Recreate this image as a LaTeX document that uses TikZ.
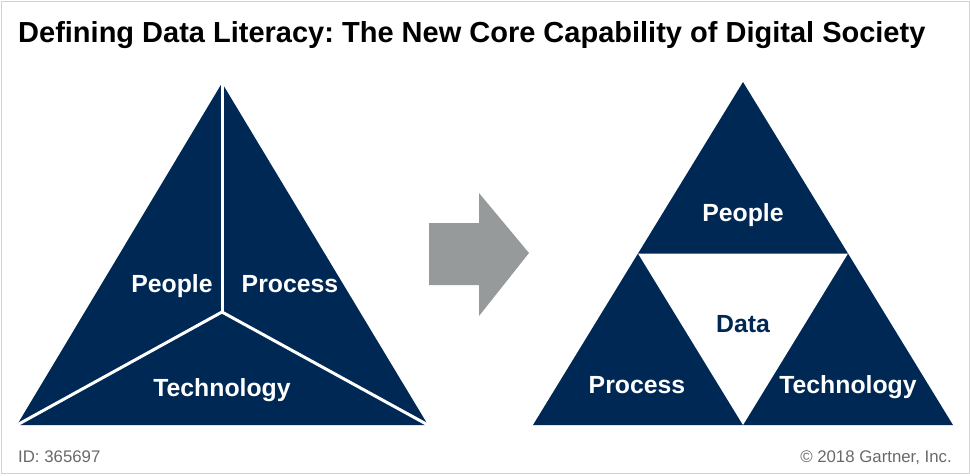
\documentclass[tikz,border=0pt]{standalone}
\usepackage{fontspec}
\setmainfont{Liberation Sans}
\usetikzlibrary{positioning, calc}
\definecolor{Navy}{RGB}{0,40,85}
\definecolor{ArrowGray}{RGB}{150,154,154}
\definecolor{FootGray}{RGB}{105,105,105}
\frenchspacing

\begin{document}
\begin{tikzpicture}[x=1pt, y=-1pt,
  %% etiquetas blancas dentro de los triángulos
  tlabel/.style={
    font=\fontsize{24.8}{28}\selectfont\bfseries,
    text=white, inner sep=0pt, anchor=base
  },
  %% etiqueta sobre fondo blanco
  dlabel/.style={
    font=\fontsize{24.8}{28}\selectfont\bfseries,
    text=Navy, inner sep=0pt, anchor=base
  },
  footer/.style={
    font=\fontsize{16.8}{20}\selectfont,
    text=FootGray, inner sep=0pt
  },
  divider/.style={draw=white, line width=3pt}
]

%% ── Marco ──────────────────────────────────────────────────────────────────
\useasboundingbox (0,0) rectangle (970,475);
\draw[draw=gray!35, line width=1pt] (1,1) rectangle (969,473);

%% ── Título ─────────────────────────────────────────────────────────────────
\node[font=\fontsize{29}{32}\selectfont\bfseries, inner sep=0pt,
      anchor=base west] (title) at (18,42)
  {Defining Data Literacy: The New Core Capability of Digital Society};

%% ── Triángulo izquierdo ───────────────────────────────────────────────────
\coordinate (lA) at (222,83);
\coordinate (lB) at (17,425);
\coordinate (lC) at (428,425);
\coordinate (lO) at (222,312);
\fill[Navy] (lA) -- (lB) -- (lC) -- cycle;
\draw[divider] (lO) -- (lA);
\draw[divider] (lO) -- (lB);
\draw[divider] (lO) -- (lC);

\node[tlabel] (lpeople)  at (172,292) {People};
\node[tlabel] (lprocess) at (290,292) {Process};
\node[tlabel] (ltech)    at (222,396) {Technology};

%% ── Flecha ─────────────────────────────────────────────────────────────────
\coordinate (arrtip) at (529,253);
\fill[ArrowGray] (429,223) -- (479,223) -- (479,193) -- (arrtip)
  -- (479,316) -- (479,285) -- (429,285) -- cycle;

%% ── Triángulo derecho ─────────────────────────────────────────────────────
\coordinate (rA) at (743,82);
\coordinate (rB) at (533,425);
\coordinate (rC) at (953,425);
\coordinate (rAB) at ($(rA)!0.5!(rB)$);
\coordinate (rAC) at ($(rA)!0.5!(rC)$);
\coordinate (rBC) at ($(rB)!0.5!(rC)$);
\fill[Navy] (rA) -- (rB) -- (rC) -- cycle;
\fill[white] (rAB) -- (rAC) -- (rBC) -- cycle;

\node[tlabel] (rpeople)  at (743,221) {People};
\node[dlabel] (rdata)    at (743,332) {Data};
\node[tlabel] (rprocess) at (637,393) {Process};
\node[tlabel] (rtech)    at (848,393) {Technology};

%% ── Pie ────────────────────────────────────────────────────────────────────
\node[footer, anchor=base west] (id) at (18,462) {ID: 365697};
\node[footer, anchor=base east] (copy) at (952,462) {© 2018 Gartner, Inc.};

\end{tikzpicture}
\end{document}
